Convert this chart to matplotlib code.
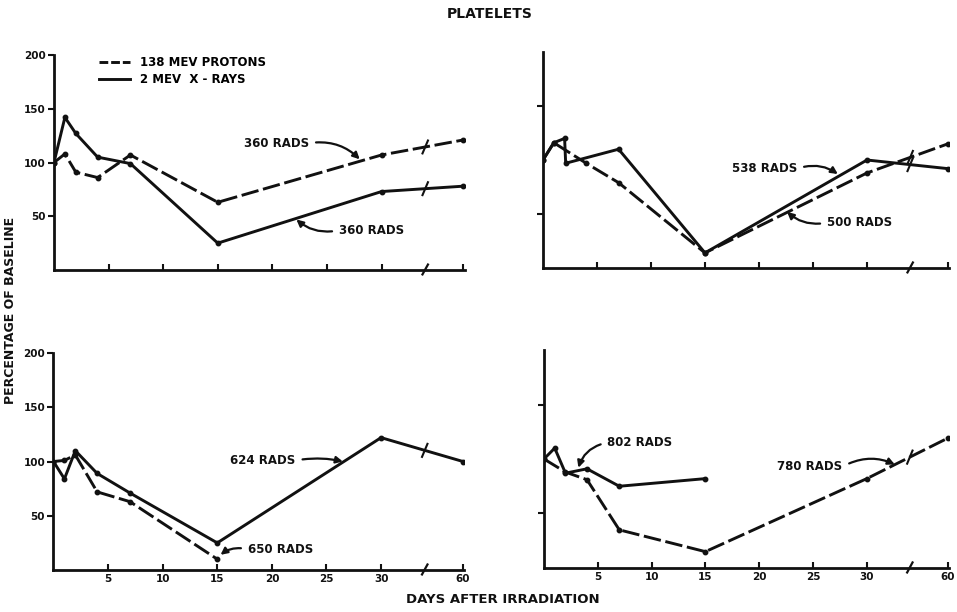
import numpy as np
import matplotlib
matplotlib.use("Agg")
import matplotlib.pyplot as plt
from matplotlib.lines import Line2D

plt.rcParams['font.family'] = ['DejaVu Sans']
plt.rcParams['font.weight'] = 'bold'

title = "PLATELETS"
ylabel = "PERCENTAGE OF BASELINE"
xlabel = "DAYS AFTER IRRADIATION"
legend_labels = ["138 MEV PROTONS", "2 MEV  X - RAYS"]
x_tick_days = [5, 10, 15, 20, 25, 30, 60]
y_ticks = [50, 100, 150, 200]

# Top-left panel (360 rads each)
tl_proton_days = [0, 1, 2, 4, 7, 15, 30, 60]
tl_proton_vals = [100, 108, 91, 86, 107, 63, 107, 121]
tl_xray_days = [0, 1, 2, 4, 7, 15, 30, 60]
tl_xray_vals = [100, 142, 127, 105, 99, 25, 73, 78]

# Top-right panel (500 / 538 rads)
tr_proton_days = [0, 1, 4, 7, 15, 30, 60]
tr_proton_vals = [100, 116, 97, 79, 14, 88, 115]
tr_xray_days = [0, 1, 2, 2.1, 7, 15, 30, 60]
tr_xray_vals = [100, 116, 120, 97, 110, 14, 100, 92]

# Bottom-left panel (650 / 624 rads)
bl_proton_days = [0, 1, 2, 4, 7, 15]
bl_proton_vals = [100, 101, 106, 72, 63, 10]
bl_xray_days = [0, 1, 2, 4, 7, 15, 30, 60]
bl_xray_vals = [100, 84, 110, 89, 71, 25, 122, 100]

# Bottom-right panel (780 / 802 rads)
br_proton_days = [0, 2, 4, 7, 15, 30, 60]
br_proton_vals = [100, 88, 81, 35, 15, 82, 119]
br_xray_days = [0, 1, 2, 4, 7, 15]
br_xray_vals = [100, 110, 87, 91, 75, 82]

BREAK = 34.0
POS60 = 37.5
INK = "#111111"


def to_pos(days):
    # broken x axis: linear up to 30 days, then 60 days placed after the break
    return [d if d <= 30 else POS60 for d in days]


fig = plt.figure(figsize=(9.57, 6.12), dpi=100)
fig.patch.set_facecolor("white")

axes_rects = {
    "tl": [0.0564, 0.5588, 0.4290, 0.3513],
    "tr": [0.5674, 0.5621, 0.4243, 0.3529],
    "bl": [0.0559, 0.0686, 0.4290, 0.3546],
    "br": [0.5684, 0.0719, 0.4228, 0.3562],
}

dash_style = (0, (6.0, 1.6))


def setup_axes(ax, show_xlabels, show_ylabels, yticks):
    ax.set_xlim(0, 37.6)
    ax.set_ylim(0, 200)
    for s in ["top", "right"]:
        ax.spines[s].set_visible(False)
    for s in ["left", "bottom"]:
        ax.spines[s].set_linewidth(2.0)
        ax.spines[s].set_color(INK)
    ax.set_xticks(to_pos(x_tick_days))
    ax.set_xticklabels([str(d) for d in x_tick_days] if show_xlabels else [])
    ax.set_yticks(yticks)
    ax.set_yticklabels([str(v) for v in yticks] if show_ylabels else [])
    ax.tick_params(axis="x", direction="in", length=4, width=1.5, pad=3,
                   labelsize=7.5, colors=INK)
    ax.tick_params(axis="y", direction="out", length=4, width=1.5, pad=2,
                   labelsize=7.5, colors=INK)
    for lab in ax.get_xticklabels() + ax.get_yticklabels():
        lab.set_fontweight("bold")
    # axis break mark on the x axis
    ax.plot([BREAK - 0.3, BREAK + 0.3], [-5, 6], color=INK, lw=1.6,
            clip_on=False, solid_capstyle="butt")


def draw_series(ax, days, vals, dashed):
    p = to_pos(days)
    if dashed:
        ax.plot(p, vals, color=INK, lw=2.1, ls=dash_style, marker="o",
                markersize=3.2, dash_capstyle="butt")
    else:
        ax.plot(p, vals, color=INK, lw=2.1, ls="-", marker="o",
                markersize=3.2)
    if max(days) > 30:
        yb = np.interp(BREAK, p, vals)
        ax.plot([BREAK - 0.25, BREAK + 0.25], [yb - 6, yb + 6], color=INK,
                lw=1.5)


def annotate(ax, text, xytext, xy, ha, rad):
    relpos = (1.0, 0.5) if ha == "left" and xy[0] > xytext[0] else (0.0, 0.5)
    ax.annotate(text, xy=xy, xytext=xytext, ha="left", va="center",
                fontsize=8.5, fontweight="bold", color=INK,
                arrowprops=dict(arrowstyle="-|>", color=INK, lw=1.6,
                                mutation_scale=10, relpos=relpos,
                                shrinkA=3, shrinkB=0,
                                connectionstyle=f"arc3,rad={rad}"))


ax_tl = fig.add_axes(axes_rects["tl"])
setup_axes(ax_tl, False, True, y_ticks)
draw_series(ax_tl, tl_proton_days, tl_proton_vals, True)
draw_series(ax_tl, tl_xray_days, tl_xray_vals, False)
annotate(ax_tl, "360 RADS", (17.4, 118), (28.0, 103), "left", -0.25)
annotate(ax_tl, "360 RADS", (26.1, 37), (22.2, 47), "left", -0.25)
h1 = Line2D([], [], color=INK, lw=2.1, ls=(0, (3, 1)))
h2 = Line2D([], [], color=INK, lw=2.1, ls="-")
leg = ax_tl.legend([h1, h2], legend_labels, loc="upper left",
                   bbox_to_anchor=(0.085, 1.045), frameon=False,
                   handlelength=2.6, handletextpad=0.8, labelspacing=0.35,
                   prop={"size": 8.5, "weight": "bold"})

ax_tr = fig.add_axes(axes_rects["tr"])
setup_axes(ax_tr, False, False, [50, 150])
draw_series(ax_tr, tr_proton_days, tr_proton_vals, True)
draw_series(ax_tr, tr_xray_days, tr_xray_vals, False)
annotate(ax_tr, "538 RADS", (17.5, 92), (27.3, 87), "left", -0.25)
annotate(ax_tr, "500 RADS", (26.3, 42), (22.6, 52), "left", -0.25)

ax_bl = fig.add_axes(axes_rects["bl"])
setup_axes(ax_bl, True, True, y_ticks)
draw_series(ax_bl, bl_proton_days, bl_proton_vals, True)
draw_series(ax_bl, bl_xray_days, bl_xray_vals, False)
annotate(ax_bl, "624 RADS", (16.2, 101), (26.5, 100), "left", -0.1)
annotate(ax_bl, "650 RADS", (17.8, 19), (15.3, 14), "left", 0.25)

ax_br = fig.add_axes(axes_rects["br"])
setup_axes(ax_br, True, False, [50, 150])
draw_series(ax_br, br_proton_days, br_proton_vals, True)
draw_series(ax_br, br_xray_days, br_xray_vals, False)
annotate(ax_br, "802 RADS", (5.9, 115), (3.2, 92), "left", 0.3)
annotate(ax_br, "780 RADS", (21.7, 93), (32.6, 95), "left", -0.25)

fig.text(0.512, 0.977, title, ha="center", va="center", fontsize=10,
         fontweight="bold", color=INK)
fig.text(0.011, 0.493, ylabel, ha="center", va="center", rotation=90,
         fontsize=9, fontweight="bold", color=INK)
fig.text(0.5256, 0.02, xlabel, ha="center", va="center", fontsize=9.5,
         fontweight="bold", color=INK)

fig.savefig("out.png", dpi=100, facecolor="white")
